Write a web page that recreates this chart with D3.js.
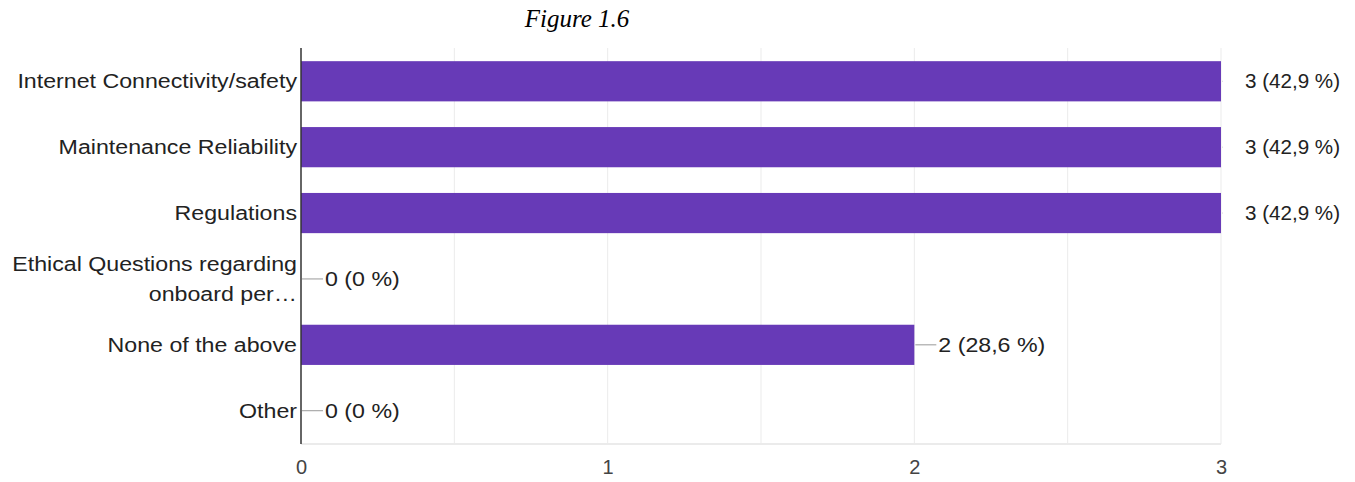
<!DOCTYPE html>
<html>
<head>
<meta charset="utf-8">
<script src="https://cdn.jsdelivr.net/npm/d3@7"></script>
<style>
  html, body { margin: 0; padding: 0; background: #fff; }
  svg { display: block; }
</style>
</head>
<body>
<svg id="chart" width="1355" height="482"></svg>
<script>
// Survey responses per answer option
const categories = [
  ["Internet Connectivity/safety"],
  ["Maintenance Reliability"],
  ["Regulations"],
  ["Ethical Questions regarding", "onboard per…"],
  ["None of the above"],
  ["Other"]
];
const counts = [3, 3, 3, 0, 2, 0];
const percentLabels = ["42,9 %", "42,9 %", "42,9 %", "0 %", "28,6 %", "0 %"];
const tickValues = [0, 1, 2, 3];
const title = "Figure 1.6";

const svg = d3.select("#chart");
const margin = { left: 301, right: 134, top: 48, bottom: 38 };
const W = 1355, H = 482;
const FONT = "'Liberation Sans', Arial, sans-serif";
const WIDE = 1.16;   // horizontal stretch of the label face

const x = d3.scaleLinear().domain([0, 3]).range([margin.left, W - margin.right]);
const y = d3.scaleBand()
  .domain(d3.range(categories.length))
  .range([margin.top, H - margin.bottom])
  .paddingInner(0.39)
  .paddingOuter(0.2);

// Title
svg.append("text")
  .attr("x", 577).attr("y", 27)
  .attr("text-anchor", "middle")
  .attr("font-family", "'Liberation Serif', 'Times New Roman', serif")
  .attr("font-style", "italic")
  .attr("font-size", 25)
  .attr("fill", "#000")
  .text(title);

// Gridlines at half steps
const gridVals = d3.range(0.5, 3.01, 0.5);
svg.append("g").selectAll("line").data(gridVals).join("line")
  .attr("x1", d => x(d)).attr("x2", d => x(d))
  .attr("y1", margin.top).attr("y2", H - margin.bottom)
  .attr("stroke", "#ebebeb").attr("stroke-width", 1);
svg.append("line")
  .attr("x1", margin.left).attr("x2", x(3))
  .attr("y1", H - margin.bottom).attr("y2", H - margin.bottom)
  .attr("stroke", "#ebebeb").attr("stroke-width", 2);

// Bars
svg.append("g").selectAll("rect").data(counts).join("rect")
  .attr("x", x(0))
  .attr("y", (d, i) => y(i))
  .attr("width", d => x(d) - x(0))
  .attr("height", y.bandwidth())
  .attr("fill", "#673ab7");

// Value labels with leader stems
const lab = svg.append("g");
counts.forEach((d, i) => {
  const cy = y(i) + y.bandwidth() / 2;
  const full = d === 3;
  const x0 = x(d);
  const stemEnd = full ? x0 + 2 : x0 + 22;
  lab.append("line")
    .attr("x1", x0 + 1).attr("x2", stemEnd)
    .attr("y1", cy).attr("y2", cy)
    .attr("stroke", full ? "#d8d8d8" : "#999").attr("stroke-width", 1);
  const tx = full ? x0 + 24 : stemEnd + 2;
  lab.append("text")
    .attr("transform", `translate(${tx},${cy}) scale(${full ? 1.03 : WIDE},1)`)
    .attr("dy", "0.36em")
    .attr("font-family", FONT)
    .attr("font-size", 20)
    .attr("fill", "#222")
    .text(`${d} (${percentLabels[i]})`);
});

// Category axis
svg.append("line")
  .attr("x1", margin.left).attr("x2", margin.left)
  .attr("y1", margin.top).attr("y2", H - margin.bottom)
  .attr("stroke", "#333").attr("stroke-width", 1.5);

const catG = svg.append("g");
categories.forEach((lines, i) => {
  const cy = y(i) + y.bandwidth() / 2;
  const lh = 30;
  const t = catG.append("text")
    .attr("transform", `translate(${margin.left - 4},${cy}) scale(${WIDE},1)`)
    .attr("text-anchor", "end")
    .attr("font-family", FONT)
    .attr("font-size", 20)
    .attr("fill", "#222");
  lines.forEach((ln, k) => {
    t.append("tspan")
      .attr("x", 0)
      .attr("y", (k - (lines.length - 1) / 2) * lh)
      .attr("dy", "0.36em")
      .text(ln);
  });
});

// Value axis
const xAxis = d3.axisBottom(x).tickValues(tickValues).tickSize(0).tickPadding(15)
  .tickFormat(d3.format("d"));
svg.append("g")
  .attr("transform", `translate(0,${H - margin.bottom + 1})`)
  .call(xAxis)
  .call(g => g.select(".domain").remove())
  .call(g => g.selectAll("text")
    .attr("font-family", FONT)
    .attr("font-size", 20)
    .attr("fill", "#444"));
</script>
</body>
</html>
